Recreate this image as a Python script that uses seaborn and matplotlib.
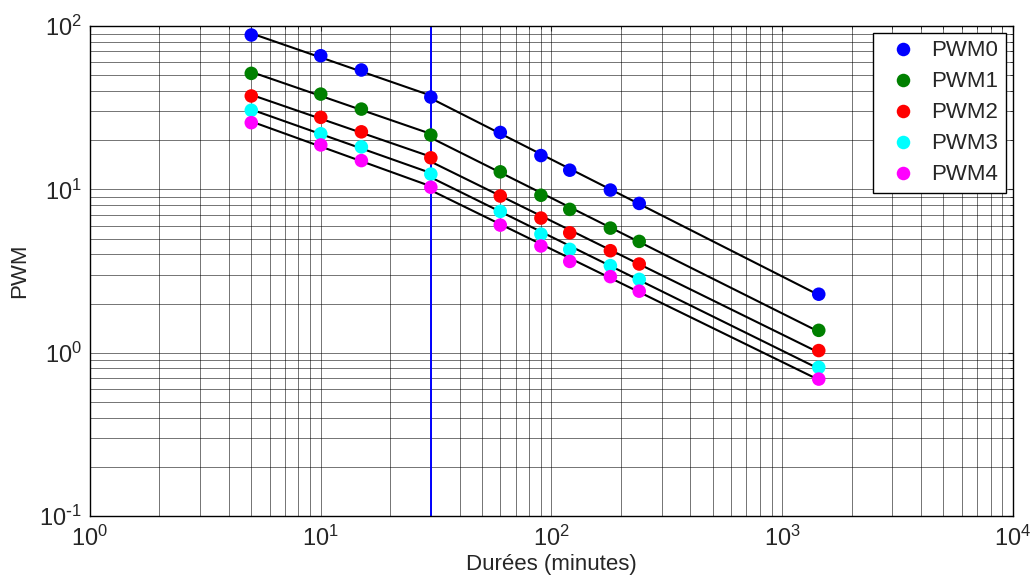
import numpy as np
import pandas as pd
import seaborn as sns
import matplotlib.pyplot as plt
from matplotlib.ticker import FuncFormatter

durees = [5, 10, 15, 30, 60, 90, 120, 180, 240, 1440]
pwm0 = [88.1, 65.8, 53.8, 36.7, 22.3, 16.1, 13.1, 9.9, 8.2, 2.28]
pwm1 = [51.3, 38.3, 31.0, 21.5, 12.8, 9.2, 7.54, 5.79, 4.80, 1.37]
pwm2 = [37.3, 27.6, 22.5, 15.6, 9.1, 6.67, 5.42, 4.21, 3.49, 1.03]
pwm3 = [30.5, 21.9, 18.2, 12.4, 7.33, 5.32, 4.29, 3.41, 2.81, 0.813]
pwm4 = [25.6, 18.7, 15.0, 10.3, 6.04, 4.50, 3.62, 2.92, 2.38, 0.689]
series = ["PWM0", "PWM1", "PWM2", "PWM3", "PWM4"]
couleurs = ["#0000ff", "#008000", "#ff0000", "#00ffff", "#ff00ff"]
coupure = 30

df = pd.DataFrame({
    "duree": durees * 5,
    "pwm": pwm0 + pwm1 + pwm2 + pwm3 + pwm4,
    "serie": np.repeat(series, len(durees)),
})

sns.set_style("white")
plt.rcParams["font.family"] = ["Liberation Sans", "DejaVu Sans"]
plt.rcParams["mathtext.default"] = "regular"
plt.rcParams["axes.unicode_minus"] = False

fig = plt.figure(figsize=(10.31, 5.81), dpi=100)
ax = fig.add_axes([0.0873, 0.1119, 0.8952, 0.8433])

# droites de regression (log-log) avant et apres la coupure
for s in series:
    d = df[df["serie"] == s]
    for part in (d[d["duree"] <= coupure], d[d["duree"] >= coupure]):
        lx = np.log10(part["duree"])
        ly = np.log10(part["pwm"])
        a, b = np.polyfit(lx, ly, 1)
        xs = np.array([lx.min(), lx.max()])
        ax.plot(10 ** xs, 10 ** (a * xs + b), color="black", lw=1.5, zorder=3)

sns.scatterplot(data=df, x="duree", y="pwm", hue="serie", hue_order=series,
                palette=couleurs, s=95, edgecolor="none", ax=ax, zorder=4)

ax.axvline(coupure, color="#0000ff", lw=1.4, zorder=2)

ax.set_xscale("log")
ax.set_yscale("log")
ax.set_xlim(1, 1e4)
ax.set_ylim(0.1, 100)


def puissance(v, pos):
    e = int(round(np.log10(v)))
    if e < 0:
        return r"$10^{\text{-}%d}$" % (-e)
    return r"$10^{%d}$" % e


ax.xaxis.set_major_formatter(FuncFormatter(puissance))
ax.yaxis.set_major_formatter(FuncFormatter(puissance))

ax.grid(True, which="both", color="black", lw=0.7, alpha=0.55)
ax.tick_params(which="both", direction="in", top=True, right=True, labelsize=17)
ax.tick_params(axis="x", pad=7)
ax.tick_params(axis="y", pad=6)
for sp in ax.spines.values():
    sp.set_color("black")
    sp.set_linewidth(1)

ax.set_xlabel("Durées (minutes)", fontsize=16, labelpad=2)
ax.set_ylabel("PWM", fontsize=16, labelpad=6)

leg = ax.legend(loc="upper right", fontsize=16, frameon=True, fancybox=False,
                edgecolor="black", framealpha=1, handletextpad=0.3,
                labelspacing=0.45, borderaxespad=0.3, borderpad=0.35,
                markerscale=1.0)
leg.get_frame().set_linewidth(1)

fig.savefig("out.png", dpi=100)
